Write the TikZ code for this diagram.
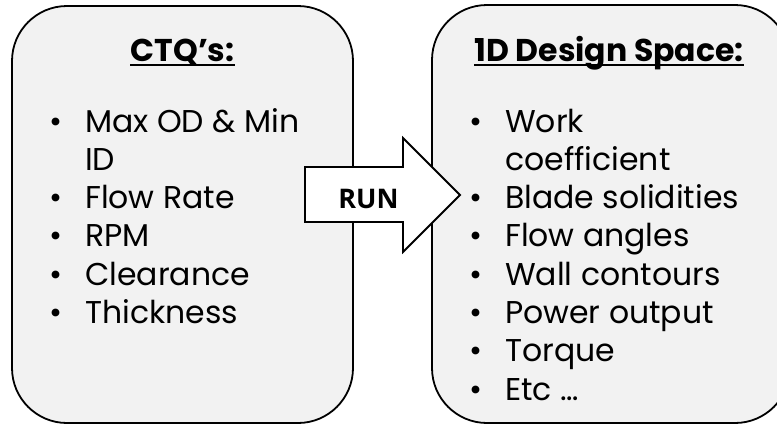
\documentclass[tikz,border=0pt]{standalone}
\usepackage{fontspec}
\setmainfont{Poppins}
\newfontfamily\runfont{Open Sans}
\usetikzlibrary{positioning}

\definecolor{panelgray}{HTML}{F2F2F2}

\tikzset{
  panel/.style={draw, line width=1.8pt, fill=panelgray, rounded corners=55pt},
  heading/.style={font=\fontsize{31.5}{36}\selectfont\bfseries, inner sep=0pt, anchor=base},
  itemlist/.style={font=\fontsize{31.5}{38.3}\selectfont, inner sep=0pt, anchor=base west},
  runarrow/.style={draw, line width=1.8pt, fill=white, line join=miter}
}

\newcommand{\ulbar}[1]{\draw[line width=2pt] ([yshift=-4pt]#1.base west) -- ([yshift=-4pt]#1.base east);}

\begin{document}
\begin{tikzpicture}[x=1pt,y=-1pt]
\useasboundingbox (0,0) rectangle (777,424);
\clip (0,0) rectangle (777,424);

% the two panels
\node[panel, minimum width=341pt, minimum height=417pt] (ctqbox) at (182.5,214.5) {};
\node[panel, minimum width=358pt, minimum height=418pt] (designbox) at (611,214) {};

% headings
\node[heading] (ctqhead) at (182.5,61) {CTQ's:};
\ulbar{ctqhead}
\node[heading] (designhead) at (609,61) {1D Design Space:};
\ulbar{designhead}

% bullet lists
\node[itemlist] (ctqlist) at (49,132) {\begin{tabular}[t]{@{}p{36pt}@{}l@{}}
• & Max OD \& Min\\
  & ID\\
• & Flow Rate\\
• & RPM\\
• & Clearance\\
• & Thickness
\end{tabular}};
\node[itemlist] (designlist) at (469,132) {\begin{tabular}[t]{@{}p{36pt}@{}l@{}}
• & Work\\
  & coefficient\\
• & Blade solidities\\
• & Flow angles\\
• & Wall contours\\
• & Power output\\
• & Torque\\
• & Etc …
\end{tabular}};

% block arrow between the panels
\draw[runarrow] (305,167) -- (403,167) -- (403,138) -- (460,195) -- (403,252)
  -- (403,222) -- (305,222) -- cycle;
\node[font=\runfont\bfseries\fontsize{27}{30}\selectfont, inner sep=0pt, anchor=base] (run) at (368.5,208) {RUN};
\end{tikzpicture}
\end{document}
